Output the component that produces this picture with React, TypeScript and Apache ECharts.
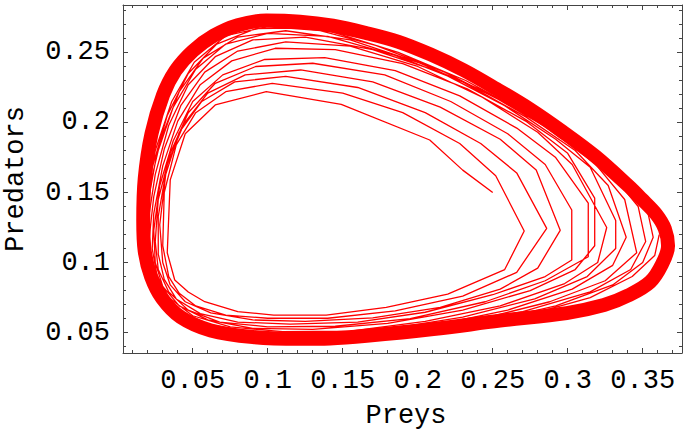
import React, { useEffect, useRef } from "react";
import * as echarts from "echarts";

// ---- tick values ----
const xMajorTicks = [0.05, 0.1, 0.15, 0.2, 0.25, 0.3, 0.35];
const xMinorTicks = [0.01, 0.02, 0.03, 0.04, 0.06, 0.07, 0.08, 0.09, 0.11, 0.12, 0.13, 0.14, 0.16, 0.17, 0.18, 0.19, 0.21, 0.22, 0.23, 0.24, 0.26, 0.27, 0.28, 0.29, 0.31, 0.32, 0.33, 0.34, 0.36, 0.37];
const yMajorTicks = [0.05, 0.1, 0.15, 0.2, 0.25];
const yMinorTicks = [0.04, 0.06, 0.07, 0.08, 0.09, 0.11, 0.12, 0.13, 0.14, 0.16, 0.17, 0.18, 0.19, 0.21, 0.22, 0.23, 0.24, 0.26, 0.27, 0.28];

// ---- trajectory (Preys, Predators), loop by loop ----
const loop1 = [[0.250, 0.150], [0.230, 0.166], [0.208, 0.1875], [0.149, 0.213], [0.099, 0.222], [0.065, 0.2125], [0.045, 0.192], [0.035, 0.159], [0.033, 0.107], [0.038, 0.0875], [0.047, 0.079], [0.058, 0.072], [0.080, 0.065], [0.104, 0.0625], [0.139, 0.0625], [0.179, 0.068], [0.220, 0.0775], [0.258, 0.095], [0.271, 0.1225]];
const loop2 = [[0.252, 0.162], [0.228, 0.185], [0.190, 0.207], [0.150, 0.221], [0.103, 0.228], [0.072, 0.222], [0.052, 0.207], [0.039, 0.184], [0.031, 0.150], [0.030, 0.112], [0.034, 0.090], [0.041, 0.078], [0.052, 0.069], [0.072, 0.0625], [0.100, 0.0602], [0.140, 0.0602], [0.185, 0.0655], [0.230, 0.076], [0.266, 0.093], [0.286, 0.1244]];
const loop3 = [[0.266, 0.164], [0.242, 0.185], [0.205, 0.207], [0.160, 0.225], [0.112, 0.233], [0.078, 0.229], [0.056, 0.215], [0.041, 0.193], [0.032, 0.163], [0.028, 0.127], [0.030, 0.100], [0.035, 0.084], [0.045, 0.072], [0.062, 0.064], [0.090, 0.059], [0.125, 0.058], [0.170, 0.0605], [0.215, 0.068], [0.255, 0.081], [0.280, 0.096], [0.295, 0.123]];
const loop4 = [[0.279, 0.166], [0.255, 0.188], [0.215, 0.211], [0.170, 0.229], [0.122, 0.2375], [0.085, 0.234], [0.060, 0.221], [0.044, 0.199], [0.033, 0.170], [0.027, 0.133], [0.027, 0.106], [0.031, 0.088], [0.039, 0.074], [0.055, 0.0635], [0.080, 0.0575], [0.115, 0.056], [0.160, 0.0575], [0.205, 0.0645], [0.250, 0.077], [0.285, 0.090], [0.3027, 0.1018], [0.3027, 0.1375]];
const loop5 = [[0.285, 0.170], [0.260, 0.192], [0.222, 0.215], [0.178, 0.234], [0.130, 0.2423], [0.092, 0.240], [0.065, 0.228], [0.047, 0.207], [0.035, 0.178], [0.027, 0.145], [0.025, 0.115], [0.027, 0.095], [0.034, 0.079], [0.047, 0.066], [0.068, 0.0575], [0.100, 0.0541], [0.145, 0.0545], [0.195, 0.060], [0.245, 0.072], [0.285, 0.087], [0.3137, 0.1041], [0.3137, 0.1425]];
const loop6 = [[0.292, 0.175], [0.266, 0.196], [0.228, 0.219], [0.185, 0.237], [0.138, 0.2463], [0.098, 0.245], [0.070, 0.234], [0.050, 0.215], [0.037, 0.187], [0.028, 0.155], [0.024, 0.123], [0.025, 0.100], [0.030, 0.083], [0.041, 0.069], [0.060, 0.059], [0.090, 0.053], [0.130, 0.0523], [0.180, 0.0565], [0.230, 0.066], [0.275, 0.080], [0.305, 0.095], [0.318, 0.112], [0.318, 0.146]];
const loop7 = [[0.300, 0.178], [0.272, 0.201], [0.233, 0.224], [0.190, 0.242], [0.145, 0.252], [0.105, 0.253], [0.076, 0.244], [0.055, 0.227], [0.040, 0.201], [0.030, 0.169], [0.024, 0.135], [0.023, 0.110], [0.026, 0.091], [0.034, 0.075], [0.050, 0.062], [0.075, 0.054], [0.110, 0.0506], [0.155, 0.051], [0.205, 0.058], [0.255, 0.069], [0.298, 0.085], [0.320, 0.100], [0.326, 0.125]];
const loop8 = [[0.303, 0.170], [0.280, 0.193], [0.243, 0.218], [0.200, 0.240], [0.155, 0.2545], [0.112, 0.2575], [0.080, 0.251], [0.058, 0.236], [0.042, 0.212], [0.031, 0.181], [0.024, 0.147], [0.021, 0.118], [0.022, 0.098], [0.028, 0.080], [0.040, 0.066], [0.060, 0.056], [0.090, 0.050], [0.130, 0.0489], [0.180, 0.0525], [0.230, 0.061], [0.278, 0.074], [0.313, 0.090], [0.332, 0.110], [0.332, 0.130]];
const loop9 = [[0.315, 0.168], [0.292, 0.188], [0.258, 0.212], [0.215, 0.236], [0.170, 0.252], [0.125, 0.261], [0.090, 0.259], [0.065, 0.247], [0.047, 0.227], [0.034, 0.198], [0.025, 0.163], [0.020, 0.128], [0.020, 0.105], [0.024, 0.087], [0.033, 0.071], [0.050, 0.059], [0.078, 0.051], [0.115, 0.0475], [0.160, 0.048], [0.210, 0.055], [0.260, 0.066], [0.303, 0.081], [0.330, 0.098], [0.339, 0.118]];
const loop10 = [[0.327, 0.155], [0.305, 0.180], [0.272, 0.204], [0.230, 0.229], [0.185, 0.248], [0.140, 0.2615], [0.100, 0.2637], [0.072, 0.256], [0.052, 0.238], [0.037, 0.211], [0.026, 0.177], [0.020, 0.142], [0.018, 0.115], [0.020, 0.095], [0.026, 0.079], [0.039, 0.065], [0.060, 0.055], [0.095, 0.0485], [0.140, 0.0465], [0.190, 0.0505], [0.240, 0.059], [0.288, 0.072], [0.325, 0.087], [0.346, 0.107]];
const loop11 = [[0.338, 0.145], [0.318, 0.171], [0.285, 0.197], [0.245, 0.222], [0.200, 0.243], [0.155, 0.259], [0.112, 0.2655], [0.080, 0.261], [0.057, 0.246], [0.041, 0.222], [0.029, 0.189], [0.021, 0.153], [0.018, 0.122], [0.018, 0.102], [0.022, 0.084], [0.032, 0.069], [0.050, 0.057], [0.080, 0.0495], [0.120, 0.046], [0.170, 0.0475], [0.220, 0.0545], [0.270, 0.065], [0.315, 0.079], [0.342, 0.095], [0.352, 0.115]];
const loop12 = [[0.347, 0.140], [0.330, 0.162], [0.300, 0.188], [0.262, 0.212], [0.218, 0.236], [0.172, 0.255], [0.128, 0.2675], [0.092, 0.267], [0.066, 0.256], [0.047, 0.235], [0.033, 0.205], [0.023, 0.168], [0.018, 0.135], [0.017, 0.110], [0.019, 0.092], [0.026, 0.076], [0.040, 0.062], [0.065, 0.052], [0.100, 0.047], [0.145, 0.046], [0.195, 0.0495], [0.245, 0.0575], [0.292, 0.069], [0.330, 0.084], [0.350, 0.100], [0.357, 0.118]];
const loop13 = [[0.353, 0.138], [0.338, 0.156], [0.312, 0.180], [0.275, 0.205], [0.232, 0.230], [0.187, 0.250], [0.142, 0.265], [0.100, 0.2685], [0.072, 0.262], [0.051, 0.243], [0.036, 0.215], [0.025, 0.180], [0.019, 0.145], [0.017, 0.118], [0.018, 0.098], [0.023, 0.082], [0.034, 0.067], [0.053, 0.056], [0.085, 0.049], [0.125, 0.0465], [0.175, 0.048], [0.225, 0.0545], [0.275, 0.063], [0.315, 0.075], [0.343, 0.090], [0.358, 0.105], [0.361, 0.120]];
// the outer band where all later loops pile up (limit cycle), from the bottom, counter-clockwise
const limitCycle = [[0.1215, 0.0455], [0.1415, 0.0458], [0.1660, 0.0477], [0.2104, 0.0525], [0.2549, 0.0585], [0.2993, 0.0639], [0.3242, 0.0696], [0.3402, 0.0764], [0.3549, 0.0861], [0.3629, 0.0989], [0.3669, 0.1120], [0.3648, 0.1240], [0.3590, 0.1345], [0.3491, 0.1456], [0.3407, 0.1545], [0.3186, 0.1757], [0.2966, 0.1934], [0.2745, 0.2097], [0.2526, 0.2239], [0.2305, 0.2374], [0.2085, 0.2486], [0.1867, 0.2578], [0.1649, 0.2641], [0.1435, 0.2691], [0.1215, 0.2720], [0.0990, 0.2728], [0.0800, 0.2695], [0.0640, 0.2620], [0.0500, 0.2510], [0.0385, 0.2370], [0.0302, 0.2196], [0.0225, 0.1920], [0.0180, 0.1600], [0.0170, 0.1300], [0.0180, 0.1080], [0.0222, 0.0900], [0.0295, 0.0746], [0.0420, 0.0610], [0.0620, 0.0515], [0.0900, 0.0468], [0.1215, 0.0455]];

const loops = [loop1, loop2, loop3, loop4, loop5, loop6, loop7, loop8, loop9, loop10, loop11, loop12, loop13];

const X_MIN = 0.0035;
const X_MAX = 0.3762;
const Y_MIN = 0.0354;
const Y_MAX = 0.2839;

export default function App() {
  const ref = useRef<HTMLDivElement>(null);
  useEffect(() => {
    if (!ref.current) return;
    const chart = echarts.init(ref.current, null, { renderer: "svg" });
    const font = "'Liberation Mono', 'Courier New', monospace";
    const frame = "#444";
    const fmt = (v: any) => String(parseFloat(Number(v).toFixed(3)));
    const labelStyle = { fontFamily: font, fontSize: 27, color: "#000" };

    const mkX = (position: string, ticks: number[], len: number, labels: boolean, line: boolean) => ({
      type: "value",
      gridIndex: 0,
      position,
      min: X_MIN,
      max: X_MAX,
      axisLine: { show: line, onZero: false, lineStyle: { color: frame, width: 1 } },
      axisTick: { show: true, inside: true, length: len, customValues: ticks, lineStyle: { color: frame, width: 1 } },
      axisLabel: labels
        ? { show: true, customValues: ticks, formatter: fmt, margin: 14, ...labelStyle }
        : { show: false },
      splitLine: { show: false },
    });
    const mkY = (position: string, ticks: number[], len: number, labels: boolean, line: boolean) => ({
      type: "value",
      gridIndex: 0,
      position,
      min: Y_MIN,
      max: Y_MAX,
      axisLine: { show: line, onZero: false, lineStyle: { color: frame, width: 1 } },
      axisTick: { show: true, inside: true, length: len, customValues: ticks, lineStyle: { color: frame, width: 1 } },
      axisLabel: labels
        ? { show: true, customValues: ticks, formatter: fmt, margin: 13, ...labelStyle }
        : { show: false },
      splitLine: { show: false },
    });

    const trajectory: number[][] = [];
    loops.forEach((l) => l.forEach((p) => trajectory.push(p)));

    chart.setOption({
      animation: false,
      backgroundColor: "#fff",
      grid: { left: 123, top: 5, width: 559, height: 348, containLabel: false },
      xAxis: [
        mkX("bottom", xMajorTicks, 5, true, true),
        mkX("bottom", xMinorTicks, 3, false, false),
        mkX("top", xMajorTicks, 5, false, true),
        mkX("top", xMinorTicks, 3, false, false),
      ],
      yAxis: [
        mkY("left", yMajorTicks, 5, true, true),
        mkY("left", yMinorTicks, 3, false, false),
        mkY("right", yMajorTicks, 5, false, true),
        mkY("right", yMinorTicks, 3, false, false),
      ],
      series: [
        {
          type: "line",
          xAxisIndex: 0,
          yAxisIndex: 0,
          data: limitCycle,
          showSymbol: false,
          symbol: "none",
          smooth: 0.35,
          lineStyle: { color: "#ff0000", width: 14, join: "round", cap: "round" },
        },
        {
          type: "line",
          xAxisIndex: 0,
          yAxisIndex: 0,
          data: trajectory,
          showSymbol: false,
          symbol: "none",
          lineStyle: { color: "#ff0000", width: 1.3 },
        },
      ],
      graphic: [
        {
          type: "text",
          x: 406,
          y: 416,
          style: { text: "Preys", font: `27px ${font}`, fill: "#000", textAlign: "center", textVerticalAlign: "middle" },
        },
        {
          type: "text",
          x: 16,
          y: 179,
          rotation: Math.PI / 2,
          style: { text: "Predators", font: `27px ${font}`, fill: "#000", textAlign: "center", textVerticalAlign: "middle" },
        },
      ],
    });
    return () => chart.dispose();
  }, []);
  return <div ref={ref} style={{ position: "fixed", left: 0, top: 0, width: 683, height: 431 }} />;
}
